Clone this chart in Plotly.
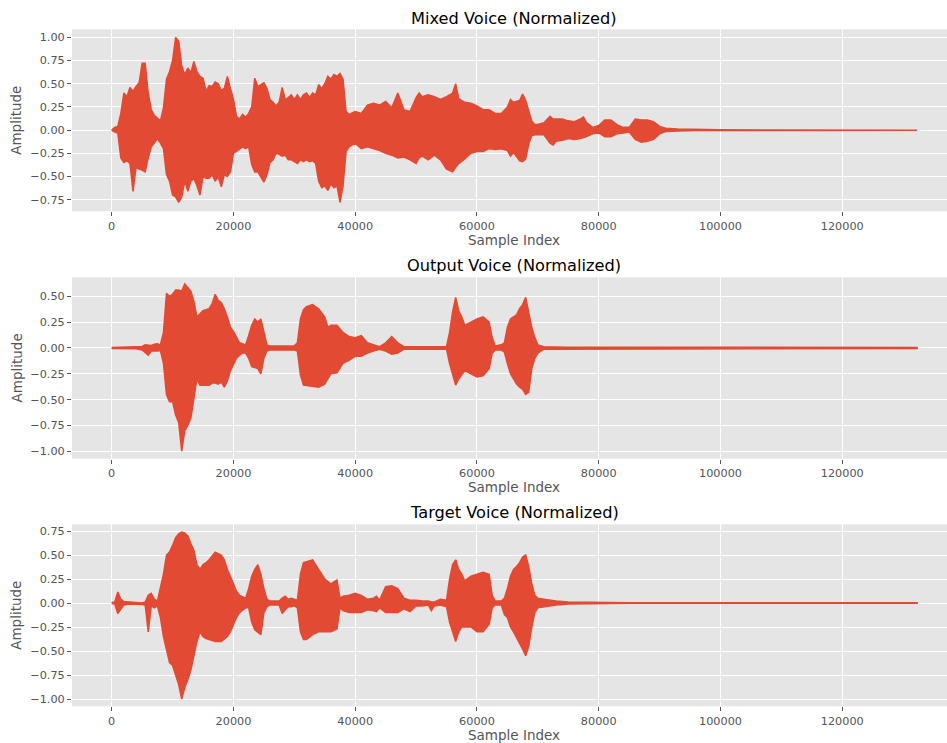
import plotly.graph_objects as go

# ---------------- data (envelopes) ----------------
mixed_idx = [0, 500, 1000, 1500, 2000, 2500, 3000, 3500, 4000, 4500, 5000, 5500, 6000, 6500, 7000, 7500,
             8000, 8500, 9000, 9500, 10000, 10500, 11000, 11500, 12000, 12500, 13000, 13500, 14000, 14500,
             15000, 15500, 16000, 16500, 17000, 17500, 18000, 18500, 19000, 19500, 20000, 20500, 21000,
             21500, 22000, 22500, 23000, 23500, 24000, 24500, 25000, 25500, 26000, 26500, 27000, 27500,
             28000, 28500, 29000, 29500, 30000, 30500, 31000, 31500, 32000, 32500, 33000, 33500, 34000,
             34500, 35000, 35500, 36000, 36500, 37000, 37500, 38000, 38500, 39000, 40000, 41000, 42000,
             43000, 44000, 45000, 46000, 47000, 48000, 49000, 50000, 50500, 51000, 52000, 53000, 54000,
             55000, 56000, 56500, 57000, 58000, 59000, 60000, 61000, 62000, 63000, 64000, 65000, 65500,
             66000, 67000, 67500, 68000, 68500, 69000, 69500, 70000, 71000, 72000, 72500, 73000, 74000,
             75000, 76000, 77000, 77500, 78000, 79000, 80000, 81000, 82000, 83000, 84000, 85000, 86000,
             87000, 88000, 89000, 90000, 91000, 93000, 96000, 100000, 110000, 120000, 132299]
mixed_upper = [0.0, 0.03, 0.04, 0.18, 0.40, 0.36, 0.46, 0.42, 0.47, 0.51, 0.72, 0.72, 0.40, 0.22, 0.16, 0.13,
               0.10, 0.24, 0.55, 0.63, 0.75, 1.00, 0.96, 0.69, 0.60, 0.67, 0.62, 0.74, 0.63, 0.58,
               0.56, 0.42, 0.48, 0.47, 0.52, 0.50, 0.43, 0.45, 0.58, 0.45, 0.33, 0.15, 0.12,
               0.17, 0.14, 0.18, 0.25, 0.56, 0.47, 0.49, 0.51, 0.45, 0.33, 0.30, 0.26, 0.30,
               0.46, 0.33, 0.35, 0.38, 0.33, 0.38, 0.33, 0.38, 0.40, 0.35, 0.40, 0.38, 0.49,
               0.45, 0.50, 0.58, 0.55, 0.60, 0.58, 0.61, 0.55, 0.20, 0.17, 0.20, 0.18, 0.27,
               0.29, 0.27, 0.31, 0.24, 0.40, 0.22, 0.20, 0.35, 0.40, 0.36, 0.38, 0.36, 0.33,
               0.36, 0.40, 0.50, 0.34, 0.30, 0.29, 0.26, 0.22, 0.22, 0.18, 0.18, 0.25, 0.33,
               0.30, 0.32, 0.39, 0.32, 0.22, 0.10, 0.06, 0.06, 0.08, 0.15, 0.12, 0.12, 0.12,
               0.10, 0.09, 0.12, 0.14, 0.08, 0.03, 0.05, 0.11, 0.11, 0.06, 0.03, 0.03, 0.12,
               0.11, 0.11, 0.09, 0.04, 0.02, 0.012, 0.006, 0.003, 0.002, 0.002, 0.0]
mixed_lower = [0.0, -0.02, -0.03, -0.30, -0.35, -0.33, -0.36, -0.66, -0.40, -0.42, -0.43, -0.45, -0.30, -0.18, -0.14, -0.09,
               -0.14, -0.20, -0.48, -0.55, -0.70, -0.72, -0.78, -0.72, -0.55, -0.66, -0.55, -0.52, -0.60, -0.70,
               -0.50, -0.52, -0.52, -0.48, -0.55, -0.50, -0.61, -0.48, -0.50, -0.45, -0.25, -0.23, -0.21,
               -0.18, -0.20, -0.18, -0.37, -0.45, -0.45, -0.50, -0.56, -0.48, -0.35, -0.32, -0.25, -0.26,
               -0.28, -0.27, -0.32, -0.32, -0.34, -0.36, -0.32, -0.34, -0.32, -0.34, -0.33, -0.36, -0.55,
               -0.62, -0.60, -0.65, -0.58, -0.62, -0.60, -0.78, -0.60, -0.23, -0.18, -0.14, -0.20, -0.18,
               -0.20, -0.22, -0.25, -0.27, -0.30, -0.29, -0.32, -0.36, -0.30, -0.28, -0.32, -0.27, -0.32,
               -0.42, -0.45, -0.40, -0.36, -0.31, -0.25, -0.23, -0.23, -0.20, -0.21, -0.20, -0.22, -0.28,
               -0.24, -0.33, -0.34, -0.31, -0.15, -0.06, -0.05, -0.05, -0.05, -0.14, -0.16, -0.12, -0.11,
               -0.09, -0.10, -0.09, -0.08, -0.07, -0.04, -0.03, -0.07, -0.07, -0.04, -0.03, -0.02, -0.10,
               -0.13, -0.12, -0.10, -0.04, -0.015, -0.01, -0.005, -0.003, -0.002, -0.002, 0.0]

output_idx = [0, 2000, 4000, 5000, 5500, 6000, 6500, 7000, 7500, 8000, 8500, 9000, 9500, 10000, 10500,
              11000, 11500, 12000, 12500, 13000, 13500, 14000, 14500, 15000, 16000, 16500, 17000, 17500,
              18000, 18500, 19000, 19500, 20000, 20500, 21000, 21500, 22000, 22500, 23000, 23500, 24000,
              24500, 25000, 25500, 26000, 30000, 30500, 31000, 31500, 32000, 33000, 34000, 35000, 35500,
              36000, 37000, 38000, 39000, 40000, 41000, 42000, 43000, 44000, 45000, 46000, 47000, 48000,
              52000, 55000, 55500, 56000, 56500, 57000, 57500, 58000, 59000, 60000, 61000, 62000, 62500,
              63000, 64000, 64500, 65000, 65500, 66000, 66500, 67000, 67500, 68000, 68500, 69000, 69500,
              70000, 71000, 75000, 90000, 110000, 132299]
output_upper = [0.005, 0.008, 0.008, 0.015, 0.03, 0.03, 0.025, 0.035, 0.04, 0.03, 0.15, 0.53, 0.50, 0.52, 0.56,
                0.56, 0.55, 0.62, 0.58, 0.55, 0.45, 0.30, 0.33, 0.36, 0.38, 0.43, 0.52, 0.46,
                0.44, 0.38, 0.30, 0.20, 0.16, 0.10, 0.05, 0.04, 0.03, 0.12, 0.22, 0.28, 0.25,
                0.28, 0.14, 0.03, 0.02, 0.02, 0.05, 0.28, 0.37, 0.40, 0.42, 0.38, 0.30, 0.20,
                0.22, 0.22, 0.15, 0.11, 0.10, 0.12, 0.05, 0.03, 0.012, 0.05, 0.11, 0.05, 0.012,
                0.012, 0.015, 0.15, 0.35, 0.49, 0.36, 0.30, 0.22, 0.25, 0.28, 0.30, 0.25, 0.10,
                0.02, 0.03, 0.05, 0.20, 0.28, 0.30, 0.32, 0.38, 0.42, 0.49, 0.35, 0.20, 0.10,
                0.03, 0.012, 0.008, 0.008, 0.006, 0.005]
output_lower = [-0.005, -0.006, -0.008, -0.02, -0.04, -0.07, -0.03, -0.03, -0.03, -0.025, -0.15, -0.45, -0.52, -0.52, -0.65,
                -0.72, -1.00, -0.80, -0.75, -0.68, -0.48, -0.30, -0.36, -0.36, -0.36, -0.34, -0.34, -0.35,
                -0.33, -0.38, -0.32, -0.22, -0.16, -0.10, -0.07, -0.05, -0.05, -0.10, -0.18, -0.19, -0.20,
                -0.25, -0.10, -0.03, -0.02, -0.02, -0.03, -0.26, -0.36, -0.36, -0.37, -0.38, -0.35, -0.30,
                -0.25, -0.24, -0.15, -0.12, -0.08, -0.08, -0.05, -0.03, -0.012, -0.03, -0.06, -0.05, -0.012,
                -0.015, -0.012, -0.15, -0.25, -0.36, -0.30, -0.26, -0.22, -0.25, -0.28, -0.27, -0.20, -0.05,
                -0.02, -0.02, -0.04, -0.15, -0.25, -0.30, -0.35, -0.38, -0.40, -0.45, -0.43, -0.20, -0.10,
                -0.05, -0.012, -0.008, -0.008, -0.006, -0.005]

target_idx = [0, 500, 1000, 1500, 2000, 3000, 5000, 5500, 6000, 6500, 7000, 7500, 8000, 8500, 9000, 9500,
              10000, 10500, 11000, 11500, 12000, 12500, 13000, 13500, 14000, 14500, 15000, 15500, 16000,
              17000, 18000, 18500, 19000, 19500, 20000, 20500, 21000, 22000, 22500, 23000, 23500, 24000,
              24500, 25000, 25500, 26000, 27500, 28000, 28500, 29000, 29500, 30000, 30500, 31000, 31500,
              32000, 33000, 34000, 35000, 36000, 37000, 37500, 38000, 39000, 40000, 41000, 42000, 43000,
              43500, 44000, 45000, 46000, 47000, 48000, 49000, 50000, 51000, 52000, 52500, 53000, 54000,
              55000, 55500, 56000, 56500, 57000, 57500, 58000, 59000, 60000, 61000, 62000, 62500, 63000,
              64000, 64500, 65000, 65500, 66000, 66500, 67000, 67500, 68000, 68500, 69000, 69500, 70000,
              71000, 72000, 73000, 75000, 80000, 85000, 132299]
target_upper = [0.005, 0.01, 0.115, 0.04, 0.015, 0.01, 0.0, 0.01, 0.08, 0.10, 0.04, 0.02, 0.15, 0.30, 0.50, 0.53,
                0.60, 0.68, 0.72, 0.74, 0.73, 0.70, 0.62, 0.55, 0.40, 0.35, 0.40, 0.42, 0.45,
                0.53, 0.50, 0.45, 0.35, 0.28, 0.20, 0.12, 0.08, 0.05, 0.15, 0.28, 0.35, 0.40,
                0.30, 0.15, 0.04, 0.02, 0.02, 0.05, 0.07, 0.04, 0.05, 0.04, 0.03, 0.30, 0.42,
                0.43, 0.45, 0.35, 0.25, 0.20, 0.24, 0.05, 0.07, 0.08, 0.10, 0.08, 0.04, 0.05,
                0.07, 0.03, 0.17, 0.18, 0.15, 0.05, 0.03, 0.03, 0.02, 0.02, 0.01, 0.01, 0.04,
                0.03, 0.25, 0.40, 0.45, 0.35, 0.30, 0.23, 0.28, 0.30, 0.32, 0.30, 0.08, 0.02,
                0.02, 0.05, 0.15, 0.28, 0.35, 0.38, 0.42, 0.48, 0.50, 0.38, 0.20, 0.08, 0.05,
                0.04, 0.03, 0.02, 0.01, 0.005, 0.003, 0.002]
target_lower = [-0.005, -0.01, -0.11, -0.06, -0.02, -0.01, -0.015, -0.02, -0.30, -0.03, -0.05, -0.03, -0.15, -0.35, -0.50, -0.62,
                -0.65, -0.75, -0.85, -1.00, -0.88, -0.80, -0.70, -0.55, -0.40, -0.30, -0.35, -0.37, -0.38,
                -0.40, -0.40, -0.38, -0.35, -0.30, -0.22, -0.15, -0.10, -0.05, -0.05, -0.20, -0.28, -0.30,
                -0.33, -0.10, -0.04, -0.02, -0.02, -0.11, -0.07, -0.04, -0.04, -0.03, -0.05, -0.30, -0.38,
                -0.38, -0.33, -0.30, -0.30, -0.30, -0.27, -0.05, -0.08, -0.10, -0.10, -0.10, -0.07, -0.08,
                -0.09, -0.05, -0.10, -0.10, -0.10, -0.06, -0.09, -0.03, -0.03, -0.02, -0.08, -0.03, -0.02,
                -0.04, -0.20, -0.30, -0.40, -0.30, -0.25, -0.25, -0.25, -0.30, -0.30, -0.22, -0.05, -0.02,
                -0.02, -0.12, -0.15, -0.25, -0.30, -0.35, -0.42, -0.48, -0.55, -0.45, -0.25, -0.10, -0.05,
                -0.04, -0.03, -0.02, -0.01, -0.005, -0.003, -0.002]

titles = ["Mixed Voice (Normalized)", "Output Voice (Normalized)", "Target Voice (Normalized)"]
x_label = "Sample Index"
y_label = "Amplitude"
x_ticks = [0, 20000, 40000, 60000, 80000, 100000, 120000]
y_ticks = [[-0.75, -0.5, -0.25, 0.0, 0.25, 0.5, 0.75, 1.0],
           [-1.0, -0.75, -0.5, -0.25, 0.0, 0.25, 0.5],
           [-1.0, -0.75, -0.5, -0.25, 0.0, 0.25, 0.5, 0.75]]

# ---------------- layout geometry ----------------
W, H = 947, 743
RED = "#E24A33"
FONT = "DejaVu Sans"
x_left_px, x_right_px = 72.0, 947.0
# plot areas (top, bottom) in px
areas = [(29.3, 211.3), (277.3, 458.7), (524.3, 706.3)]
y_ranges = [[-0.875, 1.087], [-1.072, 0.684], [-1.076, 0.82]]
x_range = [-6521, 137206]
title_y = [18.5, 265.5, 512.5]
xlabel_y = [240, 487.5, 734.5]
center_x = 514

fig = go.Figure()
signals = [(mixed_idx, mixed_upper, mixed_lower),
           (output_idx, output_upper, output_lower),
           (target_idx, target_upper, target_lower)]

for i, (idx, up, lo) in enumerate(signals):
    n = "" if i == 0 else str(i + 1)
    xs = list(idx) + list(idx)[::-1]
    ys = list(up) + list(lo)[::-1]
    fig.add_trace(go.Scatter(x=xs, y=ys, mode="lines", fill="toself", fillcolor=RED,
                             line=dict(color=RED, width=1.5), showlegend=False,
                             xaxis="x" + n, yaxis="y" + n, hoverinfo="skip"))
    top, bot = areas[i]
    common = dict(showgrid=True, gridcolor="white", gridwidth=1, zeroline=False, showline=False,
                  ticks="outside", ticklen=4, tickwidth=1, tickcolor="#555555",
                  tickfont=dict(family=FONT, size=11.25, color="#555555"))
    fig.update_layout(**{
        "xaxis" + n: dict(domain=[x_left_px / W, x_right_px / W], range=x_range, anchor="y" + n,
                          tickvals=x_ticks, tickformat="d", **common),
        "yaxis" + n: dict(domain=[1 - bot / H, 1 - top / H], range=y_ranges[i], anchor="x" + n,
                          tickvals=y_ticks[i], tickformat=".2f", **common),
    })
    fig.add_annotation(text=titles[i], x=center_x / W, y=1 - title_y[i] / H, xref="paper", yref="paper",
                       showarrow=False, xanchor="center", yanchor="middle",
                       font=dict(family=FONT, size=16.2, color="#000000"))
    fig.add_annotation(text=x_label, x=center_x / W, y=1 - xlabel_y[i] / H, xref="paper", yref="paper",
                       showarrow=False, xanchor="center", yanchor="middle",
                       font=dict(family=FONT, size=13.5, color="#555555"))
    fig.add_annotation(text=y_label, x=16.5 / W, y=1 - ((top + bot) / 2) / H, xref="paper", yref="paper",
                       showarrow=False, xanchor="center", yanchor="middle", textangle=-90,
                       font=dict(family=FONT, size=13.5, color="#555555"))

fig.update_layout(width=W, height=H, margin=dict(l=0, r=0, t=0, b=0),
                  paper_bgcolor="white", plot_bgcolor="#E5E5E5", showlegend=False)

fig.write_html("out.html")
